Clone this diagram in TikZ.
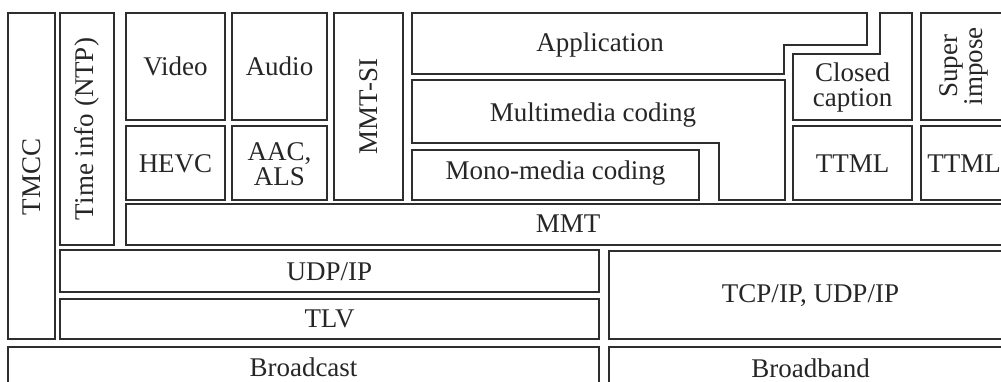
\documentclass[tikz,border=0pt]{standalone}
\usepackage{fontspec}
\setmainfont{Liberation Serif}
\begin{document}
\begin{tikzpicture}[x=1pt,y=-1pt,
  box/.style={draw=black!82, line width=2.9pt, line join=miter},
  lbl/.style={font=\fontsize{27}{25}\selectfont, align=center, inner sep=0pt, text=black!85},
  bl/.style={lbl, anchor=base}]
\useasboundingbox (0,0) rectangle (1001,382);
\clip (0,0) rectangle (1001,382);
% left columns
\draw[box] (8,13) rectangle (55,339);
\node[lbl, rotate=90] (tmcc) at (32,177) {TMCC};
\draw[box] (60,13) rectangle (114,245);
\node[lbl, rotate=90] (ntp) at (87,129) {Time info (NTP)};
% video / audio
\draw[box] (126,13) rectangle (225,120);
\node[bl] (video) at (175.5,76) {Video};
\draw[box] (232,13) rectangle (327,120);
\node[bl] (audio) at (279.5,76) {Audio};
\draw[box] (126,126) rectangle (225,200);
\node[bl] (hevc) at (175.5,173) {HEVC};
\draw[box] (232,126) rectangle (327,200);
\node[lbl] (aac) at (279.5,164) {AAC,\\ALS};
\draw[box] (334,13) rectangle (403,200);
\node[lbl, rotate=90] (mmtsi) at (369,106.5) {MMT-SI};
% application / coding
\draw[box] (412,13) -- (867,13) -- (867,45) -- (784,45) -- (784,74) -- (412,74) -- cycle;
\node[bl] (app) at (600,52) {Application};
\draw[box] (412,80) -- (785,80) -- (785,200) -- (719,200) -- (719,143) -- (412,143) -- cycle;
\node[bl] (multi) at (593,122) {Multimedia coding};
\draw[box] (412,150) rectangle (699,200);
\node[bl] (mono) at (555.5,180) {Mono-media coding};
% captions
\draw[box] (880,13) -- (912,13) -- (912,120) -- (793,120) -- (793,54) -- (880,54) -- cycle;
\node[lbl] (cc) at (852.5,88) {Closed\\caption};
\draw[box] (921,13) rectangle (1006,120);
\node[lbl, rotate=90] (super) at (963.5,66.5) {Super\\impose};
\draw[box] (793,126) rectangle (912,200);
\node[bl] (ttml1) at (852.5,173) {TTML};
\draw[box] (921,126) rectangle (1006,200);
\node[bl] (ttml2) at (964,173) {TTML};
% MMT
\draw[box] (126,204) rectangle (1012,245);
\node[bl] (mmt) at (568,233) {MMT};
% transport
\draw[box] (60,250) rectangle (599,292);
\node[bl] (udp) at (329.5,280) {UDP/IP};
\draw[box] (60,299) rectangle (599,339);
\node[bl] (tlv) at (329.5,327) {TLV};
\draw[box] (609,251) rectangle (1012,339);
\node[bl] (tcp) at (810.5,302) {TCP/IP, UDP/IP};
% physical
\draw[box] (8,347) rectangle (599,392);
\node[bl] (bc) at (303.5,376) {Broadcast};
\draw[box] (609,347) rectangle (1012,392);
\node[bl] (bb) at (810.5,377) {Broadband};
\end{tikzpicture}
\end{document}
